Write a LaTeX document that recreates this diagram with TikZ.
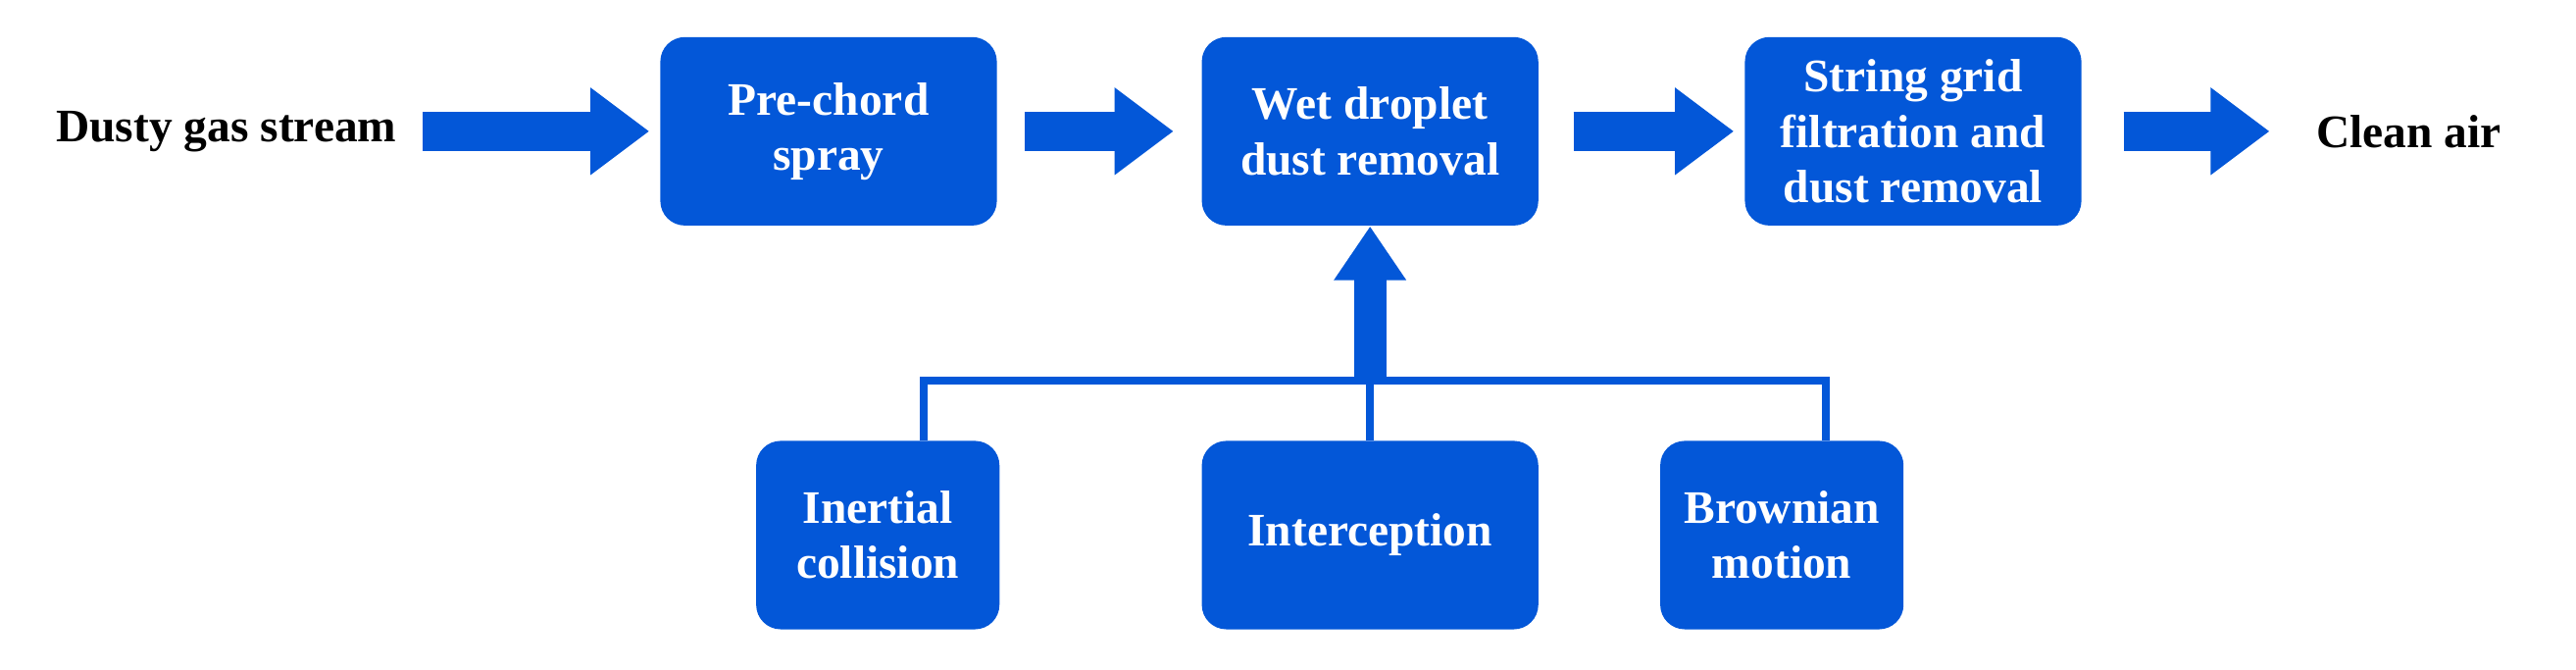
\documentclass[tikz,border=0pt]{standalone}
\usepackage{fontspec}
\setmainfont{Liberation Serif}
\usetikzlibrary{arrows.meta}
\definecolor{flowblue}{RGB}{3,87,216}
\begin{document}
\begin{tikzpicture}[
    x=0.01673cm, y=-0.01673cm,
    stage/.style={rectangle, rounded corners=0.25cm, fill=flowblue, text=white, minimum width=3.43cm, minimum height=1.92cm, align=center, font=\fontsize{13.5}{16}\selectfont\bfseries},
    cause/.style={stage, minimum width=2.48cm},
    outer/.style={font=\fontsize{13.5}{16}\selectfont\bfseries},
    fat/.style={flowblue, line width=0.4cm, -{Triangle[length=0.6cm,width=0.85cm]}},
    link/.style={flowblue, line width=2.2pt}
]
    \useasboundingbox (0,0) rectangle (1570,408);
    % Main line
    \node[outer] (dusty) at (138,80) {Dusty gas stream};
    \node[stage] (spray) at (505,80) {Pre-chord\\spray};
    \node[stage] (wet) at (835,80) {Wet droplet\\dust removal};
    \node[stage] (grid) at (1166,80) {String grid\\filtration and\\dust removal};
    \node[outer] (clean) at (1468,80) {Clean air};
    % Mechanisms
    \node[cause] (inertial) at (535,326) {Inertial\\collision};
    \node[stage] (intercept) at (835,326) {Interception};
    \node[cause] (brownian) at (1086,326) {Brownian\\motion};
    \coordinate (jl) at (563,232);
    \coordinate (jm) at (835,232);
    \coordinate (jr) at (1113,232);
    % Arrows
    \draw[fat, shorten <=4pt, shorten >=3pt] (dusty) -- (spray);
    \draw[fat, shorten <=8pt, shorten >=8pt] (spray) -- (wet);
    \draw[fat, shorten <=10pt, shorten >=3pt] (wet) -- (grid);
    \draw[fat, shorten <=12pt, shorten >=10pt] (grid) -- (clean);
    \draw[fat, line width=0.33cm, -{Triangle[length=0.55cm,width=0.7cm]}] (jm) -- (jm |- wet.south);
    % Bracket
    \draw[link] (jl |- inertial.north) -- (jl) -- (jr) -- (jr |- brownian.north);
    \draw[link] (intercept.north) -- (jm);
\end{tikzpicture}
\end{document}
